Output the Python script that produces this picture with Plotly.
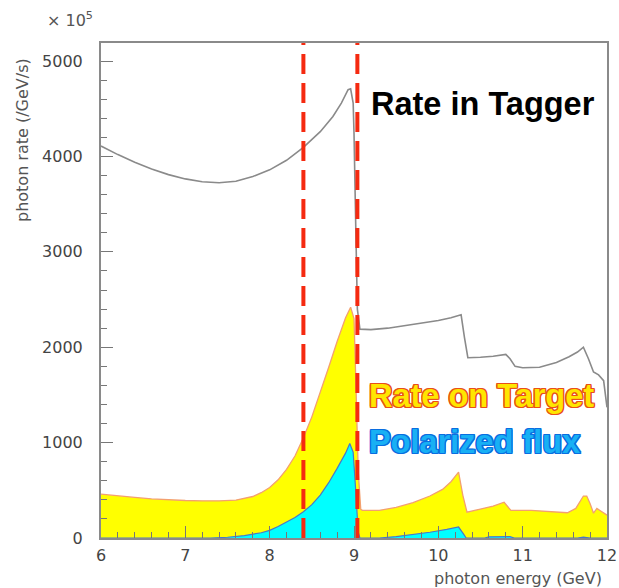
import plotly.graph_objects as go

# Photon rate in the tagger (units of 1e5 /GeV/s)
tagger_energy = [6.0, 6.2, 6.4, 6.6, 6.8, 7.0, 7.2, 7.4, 7.6, 7.8, 8.0, 8.2, 8.4, 8.6,
                 8.75, 8.85, 8.93, 8.96, 8.99, 9.0, 9.02, 9.04, 9.07, 9.2, 9.4, 9.6,
                 9.8, 10.0, 10.15, 10.27, 10.31, 10.35, 10.5, 10.65, 10.8, 10.85, 10.91,
                 11.0, 11.2, 11.4, 11.55, 11.65, 11.72, 11.78, 11.84, 11.9, 11.96, 12.0]
tagger_rate = [4110, 4020, 3940, 3870, 3810, 3765, 3735, 3725, 3740, 3790, 3860, 3960,
               4095, 4260, 4420, 4560, 4700, 4710, 4560, 4250, 3300, 2400, 2190, 2185,
               2200, 2225, 2250, 2280, 2310, 2340, 2100, 1890, 1895, 1905, 1925, 1880,
               1800, 1785, 1790, 1840, 1900, 1950, 2000, 1880, 1740, 1710, 1650, 1370]

# Photon rate on target
target_energy = [6.0, 6.2, 6.4, 6.6, 6.8, 7.0, 7.2, 7.4, 7.6, 7.8, 7.9, 8.0, 8.1, 8.2,
                 8.3, 8.4, 8.5, 8.6, 8.7, 8.8, 8.9, 8.96, 9.0, 9.02, 9.05, 9.08, 9.1,
                 9.3, 9.5, 9.7, 9.9, 10.05, 10.15, 10.24, 10.29, 10.34, 10.5, 10.65,
                 10.78, 10.82, 10.86, 11.1, 11.3, 11.53, 11.63, 11.68, 11.72, 11.76,
                 11.8, 11.84, 11.88, 11.93, 12.0]
target_rate = [460, 440, 425, 410, 400, 393, 390, 390, 398, 435, 475, 530, 610, 720,
               860, 1050, 1270, 1520, 1790, 2060, 2310, 2420, 2300, 1700, 700, 300, 290,
               290, 320, 370, 440, 510, 590, 690, 450, 270, 300, 335, 375, 330, 290,
               290, 275, 265, 310, 380, 440, 440, 360, 260, 310, 280, 240]

# Polarized photon flux
polar_energy = [6.0, 7.3, 7.5, 7.7, 7.9, 8.0, 8.1, 8.2, 8.3, 8.4, 8.5, 8.6, 8.7, 8.8,
                8.9, 8.95, 8.99, 9.02, 9.05, 9.07, 9.3, 9.5, 9.7, 9.9, 10.1, 10.24,
                10.3, 10.33, 10.55, 10.6, 10.85, 10.9, 11.65, 11.72, 11.8, 12.0]
polar_rate = [0, 0, 8, 25, 55, 80, 120, 165, 215, 275, 350, 450, 580, 730, 890, 990,
              900, 500, 60, 0, 0, 15, 35, 60, 90, 115, 40, 0, 0, 12, 15, 0, 0, 10, 0, 0]

# Energy window of the tagger (dashed markers)
window_edges = [8.4, 9.04]

x_range = [6, 12]
y_range = [0, 5190]

W, H = 619, 588
ML, MR, MT, MB = 101, 12, 43, 50
PW, PH = W - ML - MR, H - MT - MB


def px(xp):
    return (xp - ML) / PW


def py(yp):
    return 1 - (yp - MT) / PH


fig = go.Figure()

fig.add_trace(go.Scatter(
    x=target_energy, y=target_rate, mode="lines", fill="tozeroy",
    fillcolor="#ffff00", line=dict(color="#f3a070", width=1.3),
    hoverinfo="skip", showlegend=False))

fig.add_trace(go.Scatter(
    x=polar_energy, y=polar_rate, mode="lines", fill="tozeroy",
    fillcolor="#00ffff", line=dict(color="#4a78c8", width=1.2),
    hoverinfo="skip", showlegend=False))

fig.add_trace(go.Scatter(
    x=tagger_energy, y=tagger_rate, mode="lines",
    line=dict(color="#8a8a8a", width=1.6),
    hoverinfo="skip", showlegend=False))

for xe in window_edges:
    fig.add_shape(type="line", xref="x", yref="paper", x0=xe, x1=xe, y0=0, y1=1,
                  line=dict(color="#f52a10", width=4, dash="20px,9px"), layer="above")

axis_font = dict(family="DejaVu Sans, sans-serif", size=16, color="#444")

fig.update_xaxes(
    range=x_range, dtick=1, tick0=6, ticks="inside", ticklen=12, tickwidth=1.2,
    tickcolor="#777", showline=True, linecolor="#8a8a8a", linewidth=2, mirror=True,
    showgrid=False, zeroline=False, tickfont=axis_font, ticklabelstandoff=2,
    automargin=False,
    minor=dict(dtick=0.2, ticks="inside", ticklen=6, tickcolor="#777", tickwidth=1.2,
               showgrid=False))
fig.update_yaxes(
    range=y_range, dtick=1000, tick0=0, ticks="inside", ticklen=12, tickwidth=1.2,
    tickcolor="#777", showline=True, linecolor="#8a8a8a", linewidth=2, mirror=True,
    showgrid=False, zeroline=False, tickfont=axis_font, ticklabelstandoff=13,
    automargin=False,
    minor=dict(dtick=200, ticks="inside", ticklen=6, tickcolor="#777", tickwidth=1.2,
               showgrid=False))


def outline(color, w=1.2):
    offs = [(w, 0), (-w, 0), (0, w), (0, -w), (w, w), (-w, -w), (w, -w), (-w, w)]
    return ", ".join(f"{a}px {b}px 0 {color}" for a, b in offs)


label_family = "Liberation Sans, Arial, sans-serif"
small = dict(family="DejaVu Sans, sans-serif", size=16, color="#555")

annotations = [
    dict(text="× 10<sup>5</sup>", x=px(70), y=py(20),
         font=dict(family=small["family"], size=16, color="#555")),
    dict(text="photon rate (/GeV/s)", x=px(22), y=py(140), textangle=-90, font=small),
    dict(text="photon energy (GeV)", x=px(604), y=py(578), xanchor="right", font=small),
    dict(text="<b>Rate in Tagger</b>", x=px(369), y=py(104), xanchor="left",
         font=dict(family=label_family, size=32.5, color="#000000")),
    dict(text="<b>Rate on Target</b>", x=px(367), y=py(396), xanchor="left",
         font=dict(family=label_family, size=32.5, color="#ffe600",
                   shadow=outline("#e8501a"))),
    dict(text="<b>Polarized flux</b>", x=px(367), y=py(442), xanchor="left",
         font=dict(family=label_family, size=32.5, color="#18b0f4",
                   shadow=outline("#0a6ee0"))),
]
for a in annotations:
    a.setdefault("xanchor", "center")
    a.update(xref="paper", yref="paper", showarrow=False, yanchor="middle")

fig.update_layout(
    width=W, height=H, margin=dict(l=ML, r=MR, t=MT, b=MB),
    paper_bgcolor="white", plot_bgcolor="white", annotations=annotations)

fig.write_html("out.html")
